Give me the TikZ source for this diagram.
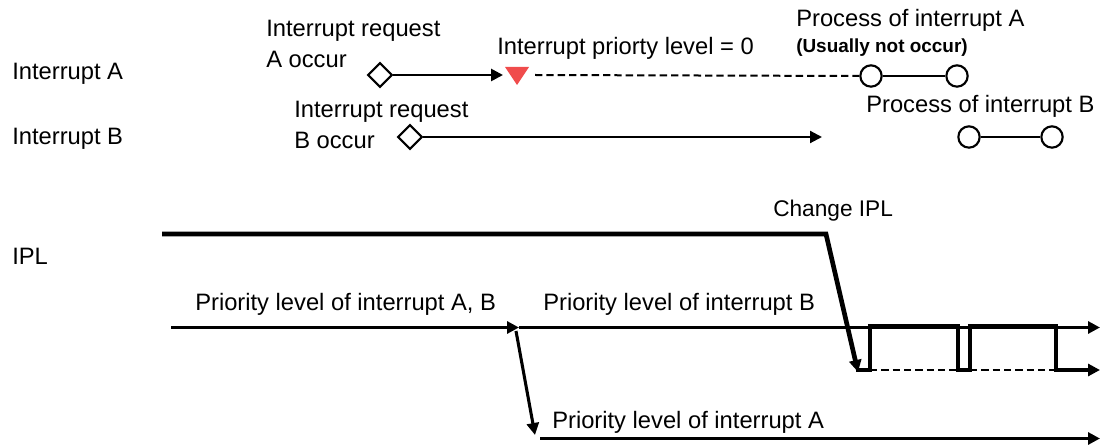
\documentclass[tikz,border=0pt]{standalone}
\usepackage{fontspec}
\setmainfont{Liberation Sans}
\usetikzlibrary{arrows.meta,shapes.geometric}
\definecolor{trired}{RGB}{240,76,76}
\tikzset{
  lbl/.style={font=\fontsize{17.8}{23.5}\selectfont, anchor=base west, inner sep=0pt, align=left},
  smalllbl/.style={font=\fontsize{17}{21}\selectfont, anchor=base west, inner sep=0pt},
  boldlbl/.style={font=\fontsize{14.2}{17}\selectfont\bfseries, anchor=base west, inner sep=0pt},
  dia/.style={shape=diamond, draw, line width=1.6pt, fill=white, minimum width=18.5pt, minimum height=18.5pt, inner sep=0pt},
  circ/.style={shape=circle, draw, line width=1.6pt, fill=white, minimum size=16pt, inner sep=0pt},
  arr/.style={-{Triangle[length=9pt,width=9pt]}},
  thinl/.style={line width=1.6pt},
  midl/.style={line width=2.3pt},
  thickl/.style={line width=3.5pt},
  dashl/.style={line width=1.5pt, dash pattern=on 5.5pt off 3pt},
}
\begin{document}
\begin{tikzpicture}[x=0.75pt,y=-0.75pt]
\useasboundingbox (0,0) rectangle (1101,445);
% left labels
\node[lbl] (lA) at (12,80) {Interrupt A};
\node[lbl] (lB) at (12,145) {Interrupt B};
\node[lbl] (lIPL) at (12,265) {IPL};
% top texts
\node[lbl] (reqA1) at (266,36.7) {Interrupt request};
\node[lbl] (reqA2) at (266,68) {A occur};
\node[lbl] (reqB1) at (294,118) {Interrupt request};
\node[lbl] (reqB2) at (294,149) {B occur};
\node[lbl] (ipl0) at (497,55) {Interrupt priorty level = 0};
\node[lbl] (procA) at (796,27) {Process of interrupt A};
\node[boldlbl] (usual) at (796,53) {(Usually not occur)};
\node[lbl] (procB) at (866,113) {Process of interrupt B};
\node[smalllbl] (chg) at (773,217) {Change IPL};
\node[lbl] (plAB) at (195,311) {Priority level of interrupt A, B};
\node[lbl] (plB) at (543,311) {Priority level of interrupt B};
\node[lbl] (plA) at (552,429) {Priority level of interrupt A};
% interrupt A row
\node[dia] (dA) at (380,75) {};
\coordinate (T) at (517,75);
\fill[trired] (505,67) -- (529,67) -- (517,85) -- cycle;
\coordinate (Tin) at (503,75);
\coordinate (Tout) at (535,75);
\node[circ] (cA1) at (871,76) {};
\node[circ] (cA2) at (957,76) {};
\draw[arr, line width=2pt] (dA.east) -- (Tin);
\draw[dashl] (Tout) -- (cA1.west);
\draw[thinl] (cA1.east) -- (cA2.west);
% interrupt B row
\node[dia] (dB) at (410,137) {};
\coordinate (Bend) at (822,137);
\node[circ] (cB1) at (969,137) {};
\node[circ] (cB2) at (1052,137) {};
\draw[arr, thinl] (dB.east) -- (Bend);
\draw[thinl] (cB1.east) -- (cB2.west);
% IPL
\coordinate (h0) at (162,234);
\coordinate (h1) at (826,234);
\coordinate (h2) at (858,372);
\draw[thickl, arr] (h0) -- (h1) -- (h2);
\coordinate (m0) at (171,327.5);
\coordinate (m1) at (519,327.5);
\coordinate (m2) at (1100,327.5);
\draw[midl, arr] (m0) -- (m1);
\draw[midl, arr] (m1) -- (m2);
\coordinate (d0) at (516,331);
\coordinate (d1) at (535,435);
\draw[midl, arr] (d0) -- (d1);
\coordinate (b0) at (540,438.5);
\coordinate (b1) at (1100,438.5);
\draw[midl, arr] (b0) -- (b1);
% square wave
\coordinate (s0) at (856,370);
\coordinate (s1) at (1100,370);
\draw[thickl, arr] (s0) -- (870,370) -- (870,326) -- (958,326) -- (958,370) -- (970,370) -- (970,326) -- (1056,326) -- (1056,370) -- (s1);
\draw[dashl] (870,370) -- (958,370);
\draw[dashl] (970,370) -- (1056,370);
\end{tikzpicture}
\end{document}
